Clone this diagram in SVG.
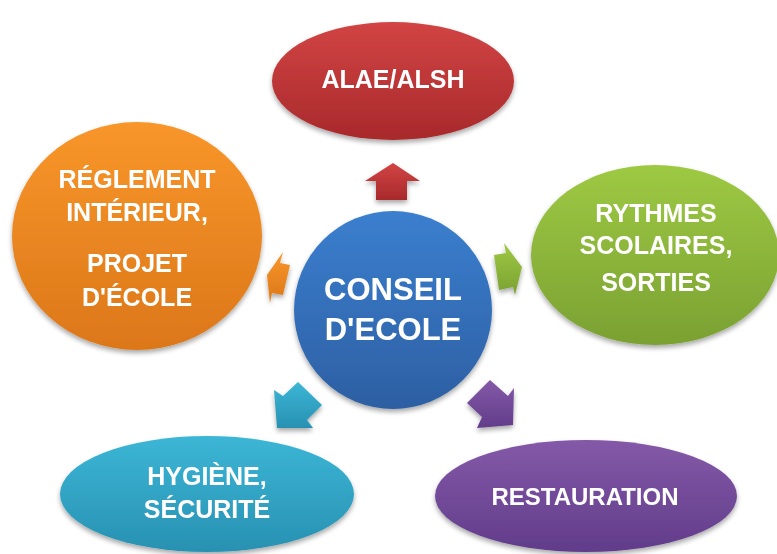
<svg xmlns="http://www.w3.org/2000/svg" width="777" height="554" viewBox="0 0 777 554">
<defs>
<linearGradient id="gRed" x1="0" y1="0" x2="0" y2="1"><stop offset="0" stop-color="#d24444"/><stop offset="1" stop-color="#a8292b"/></linearGradient>
<linearGradient id="gBlue" x1="0" y1="0" x2="0" y2="1"><stop offset="0" stop-color="#3b7fcf"/><stop offset="1" stop-color="#2d5fa3"/></linearGradient>
<linearGradient id="gGreen" x1="0" y1="0" x2="0" y2="1"><stop offset="0" stop-color="#9ec943"/><stop offset="1" stop-color="#7aa132"/></linearGradient>
<linearGradient id="gOrange" x1="0" y1="0" x2="0" y2="1"><stop offset="0" stop-color="#f8962a"/><stop offset="1" stop-color="#dc7719"/></linearGradient>
<linearGradient id="gTeal" x1="0" y1="0" x2="0" y2="1"><stop offset="0" stop-color="#3cb6d6"/><stop offset="1" stop-color="#2891b2"/></linearGradient>
<linearGradient id="gPurple" x1="0" y1="0" x2="0" y2="1"><stop offset="0" stop-color="#8459a8"/><stop offset="1" stop-color="#613c8a"/></linearGradient>
<filter id="sh" x="-20%" y="-20%" width="140%" height="150%"><feGaussianBlur in="SourceAlpha" stdDeviation="2.5"/><feOffset dy="3" result="b"/><feComponentTransfer><feFuncA type="linear" slope="0.35"/></feComponentTransfer><feMerge><feMergeNode/><feMergeNode in="SourceGraphic"/></feMerge></filter>
</defs>
<style>
text{font-family:"Liberation Sans",Arial,sans-serif;font-weight:bold;fill:#ffffff;text-anchor:middle}
.t25{font-size:25px}
.t31{font-size:31px}
</style>
<rect width="777" height="554" fill="#ffffff"/>
<g id="connectors" filter="url(#sh)">
<polygon points="376,200 376,181 365,181 393,163 420,181 407,181 407,200" fill="url(#gRed)"/>
<polygon points="494,255 506,253 504,243 522,267 515,295 513,287 499,290" fill="url(#gGreen)"/>
<polygon points="290,265 280,263 283,252 267,275 270,303 272,293 283,295" fill="url(#gOrange)"/>
<polygon points="298,382 322,405 307,420 313,428 277,428 274,390 283,396" fill="url(#gTeal)"/>
<polygon points="490,380 508,396 514,388 513,425 477,428 482,417 467,403" fill="url(#gPurple)"/>
</g>
<g id="alae" filter="url(#sh)">
<ellipse cx="393" cy="81" rx="121" ry="59" fill="url(#gRed)"/>
<text class="t25" x="393" y="88">ALAE/ALSH</text>
</g>
<g id="reglement" filter="url(#sh)">
<ellipse cx="137" cy="236" rx="125" ry="114" fill="url(#gOrange)"/>
<text class="t25" x="137" y="188">RÉGLEMENT</text>
<text class="t25" x="137" y="221">INTÉRIEUR,</text>
<text class="t25" x="137" y="272">PROJET</text>
<text class="t25" x="137" y="306">D'ÉCOLE</text>
</g>
<g id="rythmes" filter="url(#sh)">
<ellipse cx="655" cy="255" rx="124" ry="90" fill="url(#gGreen)"/>
<text class="t25" x="656" y="222">RYTHMES</text>
<text class="t25" x="656" y="254">SCOLAIRES,</text>
<text class="t25" x="656" y="291">SORTIES</text>
</g>
<g id="hygiene" filter="url(#sh)">
<ellipse cx="207" cy="494" rx="147" ry="58" fill="url(#gTeal)"/>
<text class="t25" x="207" y="485">HYGIÈNE,</text>
<text class="t25" x="207" y="518">SÉCURITÉ</text>
</g>
<g id="restauration" filter="url(#sh)">
<ellipse cx="586" cy="496" rx="151" ry="56" fill="url(#gPurple)"/>
<text x="585" y="505" style="font-size:24px">RESTAURATION</text>
</g>
<g id="conseil" filter="url(#sh)">
<circle cx="393" cy="310" r="99" fill="url(#gBlue)"/>
<text class="t31" x="393" y="300">CONSEIL</text>
<text class="t31" x="393" y="340">D'ECOLE</text>
</g>
</svg>
